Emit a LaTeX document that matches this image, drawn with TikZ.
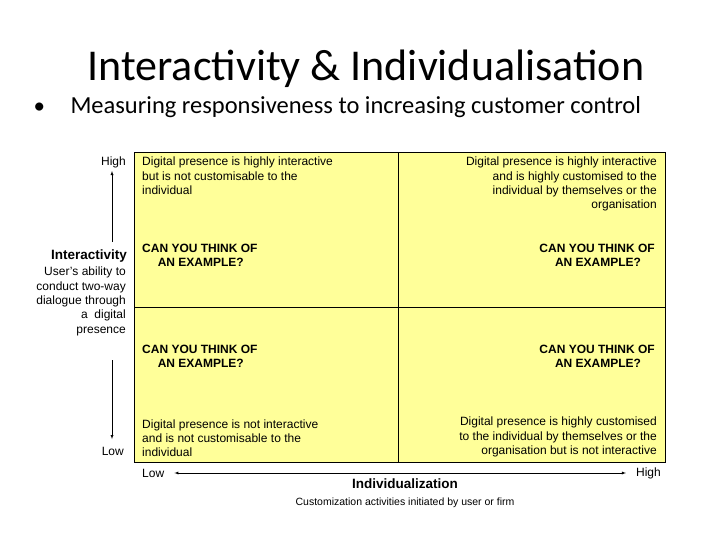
\documentclass[tikz,border=0pt]{standalone}
\usepackage{fontspec}
\setmainfont{Liberation Sans}
\newfontfamily\calib{Carlito}
\definecolor{quad}{RGB}{255,255,153}
\begin{document}
\begin{tikzpicture}[x=1pt,y=-1pt,
  sm/.style={font=\fontsize{12}{14.3}\selectfont,inner sep=0pt},
  bd/.style={font=\fontsize{12}{14.3}\selectfont\bfseries,inner sep=0pt,align=left},
  arr/.style={-latex,thin}]
\useasboundingbox (0,0) rectangle (728,546);
\node[font=\calib\fontsize{44}{48}\selectfont,anchor=base west] (title) at (84,80) {Interactivity \& Individualisation};
\node[font=\calib\fontsize{23}{26}\selectfont,anchor=base west] (bul) at (30,113) {\textbullet};
\node[font=\calib\fontsize{24.5}{28}\selectfont,anchor=base west] (sub) at (67,113) {Measuring responsiveness to increasing customer control};
\filldraw[fill=quad,draw=black] (134,152) rectangle (665,462);
\draw (398,152) -- (398,462) (134,307) -- (665,307);
\node[sm,anchor=north west,align=left] (q1) at (142,157) {Digital presence is highly interactive\\but is not customisable to the\\individual};
\node[sm,anchor=north east,align=right] (q2) at (657,157) {Digital presence is highly interactive\\and is highly customised to the\\individual by themselves or the\\organisation};
\node[sm,anchor=south west,align=left] (q3) at (142,457) {Digital presence is not interactive\\and is not customisable to the\\individual};
\node[sm,anchor=south east,align=right] (q4) at (657,457) {Digital presence is highly customised\\to the individual by themselves or the\\organisation but is not interactive};
\node[bd,anchor=north west] (e1) at (142,244) {CAN YOU THINK OF\\\hspace*{1.3em}AN EXAMPLE?};
\node[bd,anchor=north east] (e2) at (655,244) {CAN YOU THINK OF\\\hspace*{1.3em}AN EXAMPLE?\hspace*{1.1em}};
\node[bd,anchor=north west] (e3) at (142,345) {CAN YOU THINK OF\\\hspace*{1.3em}AN EXAMPLE?};
\node[bd,anchor=north east] (e4) at (655,345) {CAN YOU THINK OF\\\hspace*{1.3em}AN EXAMPLE?\hspace*{1.1em}};
\node[sm,anchor=east] (high) at (126,162) {High};
\node[sm,anchor=east] (low) at (124,451) {Low};
\node[bd,anchor=east,font=\fontsize{13.5}{16}\selectfont\bfseries] (inter) at (127,256) {Interactivity};
\node[sm,anchor=north east,align=right] (idesc) at (126,267) {User's ability to\\conduct two-way\\dialogue through\\a\ \ digital\\presence};
\coordinate (vt) at (112,171);
\coordinate (vb) at (112,439);
\draw[arr] (112,242) -- (vt);
\draw[arr] (112,360) -- (vb);
\node[sm,anchor=west] (hl) at (142,473) {Low};
\node[sm,anchor=east] (hh) at (661,473) {High};
\draw[latex-latex,thin] ([xshift=10pt]hl.east) -- ([xshift=-10pt]hh.west);
\node[bd,font=\fontsize{13.5}{16}\selectfont\bfseries] (indiv) at (405,484) {Individualization};
\node[sm,font=\fontsize{10.5}{12}\selectfont] (idesc2) at (405,503) {Customization activities initiated by user or firm};
\end{tikzpicture}
\end{document}
